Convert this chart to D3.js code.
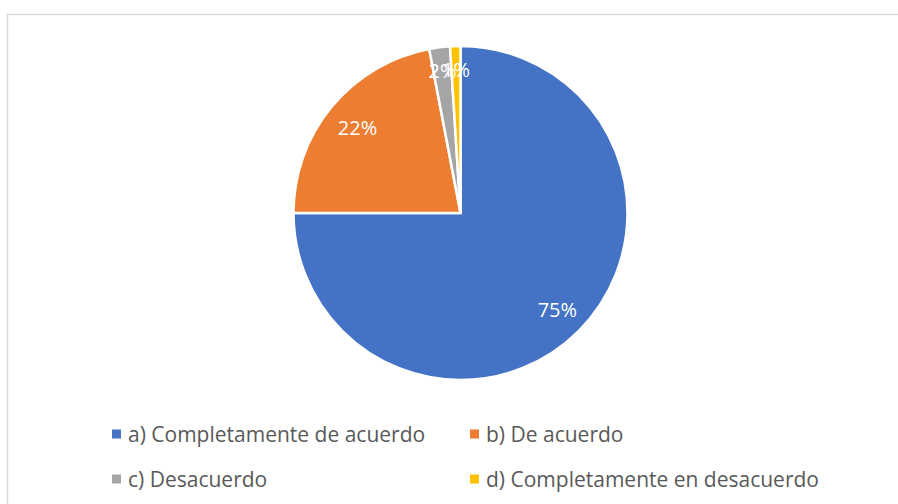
<!DOCTYPE html>
<html>
<head>
<meta charset="utf-8">
<script src="https://cdn.jsdelivr.net/npm/d3@7"></script>
<style>
  html, body { margin: 0; padding: 0; background: #fff; }
  svg { display: block; }
</style>
</head>
<body>
<svg id="chart" width="898" height="504"></svg>
<script>
// Survey answers and their shares (%)
const categories = [
  "a) Completamente de acuerdo",
  "b) De acuerdo",
  "c) Desacuerdo",
  "d) Completamente en desacuerdo"
];
const values = [75, 22, 2, 1];
const labels = ["75%", "22%", "2%", "1%"];
const colors = ["#4472C4", "#ED7D31", "#A5A5A5", "#FFC000"];

const svg = d3.select("#chart");
const W = 898, H = 504;
const FONT = "'Open Sans', 'Noto Sans', sans-serif";

// chart area frame (top and left edges visible)
svg.append("path")
  .attr("d", `M7.5,${H} L7.5,14.5 L${W},14.5`)
  .attr("fill", "none")
  .attr("stroke", "#D9D9D9")
  .attr("stroke-width", 1.5);

const cx = 460.5, cy = 213, r = 167;

const data = categories.map((c, i) => ({ name: c, value: values[i], label: labels[i], color: colors[i] }));

const pie = d3.pie().sort(null).value(d => d.value);
const arcs = pie(data);
const arc = d3.arc().innerRadius(0).outerRadius(r);

const g = svg.append("g").attr("transform", `translate(${cx},${cy})`);

g.selectAll("path.slice")
  .data(arcs)
  .join("path")
  .attr("class", "slice")
  .attr("d", arc)
  .attr("fill", d => d.data.color)
  .attr("stroke", "#fff")
  .attr("stroke-width", 2.5)
  .attr("stroke-linejoin", "miter");

// label distance from the centre, as a share of the radius
const labelFrac = [0.82, 0.8, 0.86, 0.86];
g.selectAll("text.val")
  .data(arcs)
  .join("text")
  .attr("class", "val")
  .attr("transform", (d, i) => {
    const a = (d.startAngle + d.endAngle) / 2;
    const rr = r * labelFrac[i];
    return `translate(${Math.sin(a) * rr},${-Math.cos(a) * rr})`;
  })
  .attr("text-anchor", "middle")
  .attr("dominant-baseline", "central")
  .attr("fill", "#fff")
  .style("font-family", FONT)
  .style("font-size", "20px")
  .text(d => d.data.label);

// legend, two columns by two rows
const legX = [112, 470], legY = [434, 479];
const leg = svg.append("g");
data.forEach((d, i) => {
  const x = legX[i % 2], y = legY[Math.floor(i / 2)];
  leg.append("rect")
    .attr("x", x).attr("y", y - 4.5)
    .attr("width", 9).attr("height", 9)
    .attr("fill", d.color);
  leg.append("text")
    .attr("x", x + 16).attr("y", y)
    .attr("dominant-baseline", "central")
    .attr("fill", "#595959")
    .style("font-family", FONT)
    .style("font-size", "21px")
    .text(d.name);
});
</script>
</body>
</html>
